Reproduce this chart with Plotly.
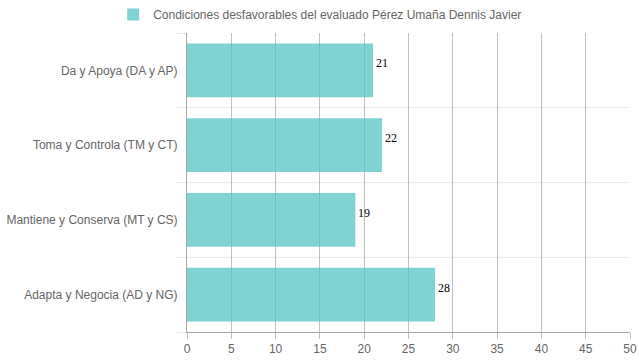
import plotly.graph_objects as go

categories = ["Da y Apoya (DA y AP)", "Toma y Controla (TM y CT)",
              "Mantiene y Conserva (MT y CS)", "Adapta y Negocia (AD y NG)"]
values = [21, 22, 19, 28]
series_name = "Condiciones desfavorables del evaluado Pérez Umaña Dennis Javier"

fig = go.Figure()
fig.add_trace(go.Bar(
    y=categories, x=values, orientation="h", name=series_name,
    marker=dict(color="rgba(75,192,192,0.7)", line=dict(width=0)),
    width=0.72,
))

for cat, v in zip(categories, values):
    fig.add_annotation(
        x=v, y=cat, text=str(v), showarrow=False,
        xanchor="left", yanchor="middle", xshift=1, yshift=7,
        font=dict(family="Liberation Serif", size=12, color="#000"),
    )

fig.update_layout(
    width=639, height=360,
    margin=dict(l=187, r=9, t=33, b=28, autoexpand=False),
    paper_bgcolor="white", plot_bgcolor="white",
    font=dict(family="Liberation Sans, Arial", size=12, color="#666"),
    showlegend=True,
    legend=dict(orientation="h", xref="container", x=0.501, xanchor="center",
                yref="container", y=1.0, yanchor="top",
                font=dict(size=12, color="#666"), bgcolor="rgba(0,0,0,0)"),
    bargap=0.28,
)
fig.update_xaxes(
    range=[0, 50], dtick=5, tick0=0, automargin=False,
    showgrid=True, gridcolor="rgba(0,0,0,0.25)", gridwidth=1,
    zeroline=False, showline=True, linecolor="rgba(0,0,0,0.35)",
    ticks="outside", ticklen=6, tickcolor="rgba(0,0,0,0.25)",
    tickfont=dict(size=12, color="#666"),
    layer="above traces",
)
fig.update_yaxes(
    categoryorder="array", categoryarray=categories[::-1], automargin=False,
    tickson="boundaries", showgrid=True, gridcolor="rgba(0,0,0,0.07)",
    ticks="outside", ticklen=10, tickcolor="rgba(0,0,0,0.07)",
    ticklabelstandoff=6,
    showline=True, linecolor="rgba(0,0,0,0.35)",
    tickfont=dict(size=12, color="#666"),
)

fig.write_html(
    "out.html",
    config={"displayModeBar": False},
    post_script="document.body.style.margin='0';document.body.style.padding='0';document.body.style.overflow='hidden';",
)
